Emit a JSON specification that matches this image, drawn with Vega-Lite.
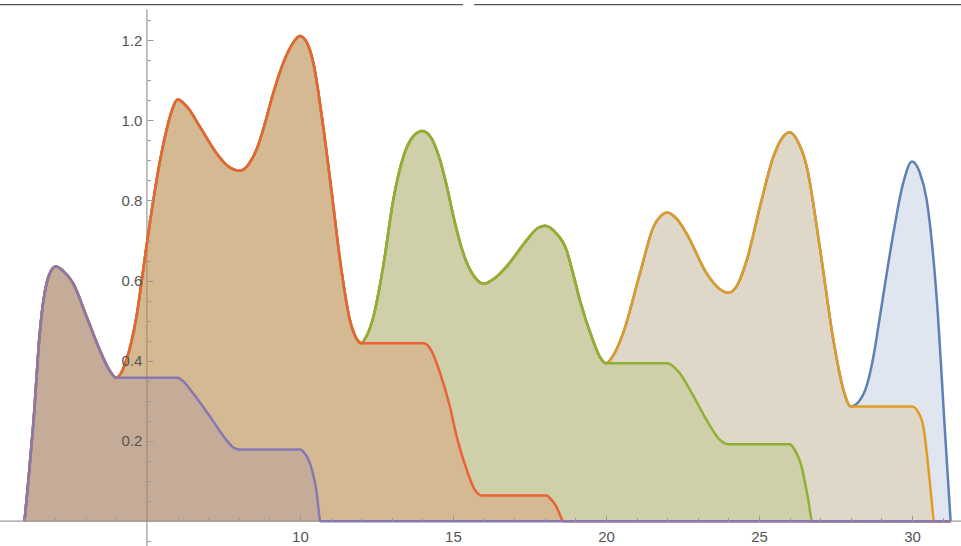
{
  "$schema": "https://vega.github.io/schema/vega-lite/v6.json",
  "width": 961,
  "height": 546,
  "autosize": {"type": "none"},
  "padding": 0,
  "background": "white",
  "config": {"view": {"stroke": null}},
  "datasets": {
    "curves": [
      {"x": 1.00, "b": 0, "o": 0, "g": 0, "r": 0, "p": 0},
      {"x": 1.12, "b": 0.095, "o": 0.095, "g": 0.095, "r": 0.095, "p": 0.095},
      {"x": 1.29, "b": 0.244, "o": 0.244, "g": 0.244, "r": 0.244, "p": 0.244},
      {"x": 1.50, "b": 0.469, "o": 0.469, "g": 0.469, "r": 0.469, "p": 0.469},
      {"x": 1.60, "b": 0.54, "o": 0.54, "g": 0.54, "r": 0.54, "p": 0.54},
      {"x": 1.72, "b": 0.593, "o": 0.593, "g": 0.593, "r": 0.593, "p": 0.593},
      {"x": 1.85, "b": 0.622, "o": 0.622, "g": 0.622, "r": 0.622, "p": 0.622},
      {"x": 2.03, "b": 0.635, "o": 0.635, "g": 0.635, "r": 0.635, "p": 0.635},
      {"x": 2.25, "b": 0.625, "o": 0.625, "g": 0.625, "r": 0.625, "p": 0.625},
      {"x": 2.59, "b": 0.593, "o": 0.593, "g": 0.593, "r": 0.593, "p": 0.593},
      {"x": 3.03, "b": 0.51, "o": 0.51, "g": 0.51, "r": 0.51, "p": 0.51},
      {"x": 3.46, "b": 0.427, "o": 0.427, "g": 0.427, "r": 0.427, "p": 0.427},
      {"x": 3.75, "b": 0.38, "o": 0.38, "g": 0.38, "r": 0.38, "p": 0.38},
      {"x": 4.00, "b": 0.358, "o": 0.358, "g": 0.358, "r": 0.358, "p": 0.358},
      {"x": 4.33, "b": 0.402, "o": 0.402, "g": 0.402, "r": 0.402},
      {"x": 4.66, "b": 0.51, "o": 0.51, "g": 0.51, "r": 0.51},
      {"x": 4.93, "b": 0.655, "o": 0.655, "g": 0.655, "r": 0.655},
      {"x": 5.10, "b": 0.745, "o": 0.745, "g": 0.745, "r": 0.745},
      {"x": 5.42, "b": 0.895, "o": 0.895, "g": 0.895, "r": 0.895},
      {"x": 5.64, "b": 0.975, "o": 0.975, "g": 0.975, "r": 0.975},
      {"x": 5.82, "b": 1.025, "o": 1.025, "g": 1.025, "r": 1.025},
      {"x": 6.00, "b": 1.052, "o": 1.052, "g": 1.052, "r": 1.052, "p": 0.358},
      {"x": 6.20, "p": 0.348},
      {"x": 6.35, "b": 1.03, "o": 1.03, "g": 1.03, "r": 1.03},
      {"x": 6.51, "p": 0.319},
      {"x": 6.73, "b": 0.984, "o": 0.984, "g": 0.984, "r": 0.984},
      {"x": 7.06, "p": 0.261},
      {"x": 7.28, "b": 0.917, "o": 0.917, "g": 0.917, "r": 0.917},
      {"x": 7.60, "p": 0.202},
      {"x": 7.65, "b": 0.885, "o": 0.885, "g": 0.885, "r": 0.885},
      {"x": 7.80, "p": 0.185},
      {"x": 8.00, "p": 0.179},
      {"x": 8.02, "b": 0.874, "o": 0.874, "g": 0.874, "r": 0.874},
      {"x": 8.35, "b": 0.893, "o": 0.893, "g": 0.893, "r": 0.893},
      {"x": 8.60, "b": 0.93, "o": 0.93, "g": 0.93, "r": 0.93},
      {"x": 8.85, "b": 0.99, "o": 0.99, "g": 0.99, "r": 0.99},
      {"x": 9.10, "b": 1.06, "o": 1.06, "g": 1.06, "r": 1.06},
      {"x": 9.45, "b": 1.142, "o": 1.142, "g": 1.142, "r": 1.142},
      {"x": 9.75, "b": 1.19, "o": 1.19, "g": 1.19, "r": 1.19},
      {"x": 10.00, "b": 1.21, "o": 1.21, "g": 1.21, "r": 1.21, "p": 0.179},
      {"x": 10.15, "p": 0.17},
      {"x": 10.25, "b": 1.19, "o": 1.19, "g": 1.19, "r": 1.19},
      {"x": 10.33, "p": 0.144},
      {"x": 10.44, "b": 1.142, "o": 1.142, "g": 1.142, "r": 1.142},
      {"x": 10.55, "p": 0.07},
      {"x": 10.67, "p": 0},
      {"x": 10.76, "b": 0.984, "o": 0.984, "g": 0.984, "r": 0.984},
      {"x": 11.04, "b": 0.818, "o": 0.818, "g": 0.818, "r": 0.818},
      {"x": 11.31, "b": 0.651, "o": 0.651, "g": 0.651, "r": 0.651},
      {"x": 11.63, "b": 0.502, "o": 0.502, "g": 0.502, "r": 0.502},
      {"x": 11.85, "b": 0.455, "o": 0.455, "g": 0.455, "r": 0.455},
      {"x": 12.00, "b": 0.444, "o": 0.444, "g": 0.444, "r": 0.444},
      {"x": 12.15, "b": 0.458, "o": 0.458, "g": 0.458},
      {"x": 12.40, "b": 0.51, "o": 0.51, "g": 0.51},
      {"x": 12.72, "b": 0.635, "o": 0.635, "g": 0.635},
      {"x": 13.05, "b": 0.801, "o": 0.801, "g": 0.801},
      {"x": 13.38, "b": 0.909, "o": 0.909, "g": 0.909},
      {"x": 13.70, "b": 0.96, "o": 0.96, "g": 0.96},
      {"x": 14.00, "b": 0.973, "o": 0.973, "g": 0.973},
      {"x": 14.05, "r": 0.444},
      {"x": 14.30, "b": 0.955, "o": 0.955, "g": 0.955, "r": 0.425},
      {"x": 14.58, "b": 0.90, "o": 0.90, "g": 0.90, "r": 0.369},
      {"x": 14.80, "b": 0.835, "o": 0.835, "g": 0.835},
      {"x": 14.90, "r": 0.286},
      {"x": 15.01, "b": 0.762, "o": 0.762, "g": 0.762},
      {"x": 15.12, "r": 0.211},
      {"x": 15.25, "b": 0.69, "o": 0.69, "g": 0.69},
      {"x": 15.45, "b": 0.645, "o": 0.645, "g": 0.645, "r": 0.128},
      {"x": 15.70, "r": 0.08},
      {"x": 15.75, "b": 0.605, "o": 0.605, "g": 0.605},
      {"x": 15.95, "r": 0.064},
      {"x": 16.00, "b": 0.592, "o": 0.592, "g": 0.592},
      {"x": 16.35, "b": 0.605, "o": 0.605, "g": 0.605},
      {"x": 16.75, "b": 0.635, "o": 0.635, "g": 0.635},
      {"x": 17.41, "b": 0.701, "o": 0.701, "g": 0.701},
      {"x": 17.75, "b": 0.73, "o": 0.73, "g": 0.73},
      {"x": 18.00, "b": 0.737, "o": 0.737, "g": 0.737},
      {"x": 18.05, "r": 0.064},
      {"x": 18.20, "r": 0.055},
      {"x": 18.35, "b": 0.72, "o": 0.72, "g": 0.72},
      {"x": 18.38, "r": 0.036},
      {"x": 18.50, "r": 0.015},
      {"x": 18.60, "r": 0},
      {"x": 18.71, "b": 0.676, "o": 0.676, "g": 0.676},
      {"x": 18.90, "b": 0.625, "o": 0.625, "g": 0.625},
      {"x": 19.15, "b": 0.55, "o": 0.55, "g": 0.55},
      {"x": 19.58, "b": 0.45, "o": 0.45, "g": 0.45},
      {"x": 19.80, "b": 0.41, "o": 0.41, "g": 0.41},
      {"x": 20.00, "b": 0.394, "o": 0.394, "g": 0.394},
      {"x": 20.25, "b": 0.415, "o": 0.415},
      {"x": 20.56, "b": 0.469, "o": 0.469},
      {"x": 21.11, "b": 0.618, "o": 0.618},
      {"x": 21.55, "b": 0.734, "o": 0.734},
      {"x": 21.80, "b": 0.762, "o": 0.762},
      {"x": 22.00, "b": 0.770, "o": 0.770, "g": 0.394},
      {"x": 22.30, "b": 0.755, "o": 0.755},
      {"x": 22.40, "g": 0.37},
      {"x": 22.63, "b": 0.718, "o": 0.718},
      {"x": 22.75, "g": 0.327},
      {"x": 23.29, "b": 0.618, "o": 0.618, "g": 0.252},
      {"x": 23.70, "b": 0.58, "o": 0.58},
      {"x": 23.73, "g": 0.202},
      {"x": 24.00, "b": 0.570, "o": 0.570, "g": 0.192},
      {"x": 24.30, "b": 0.59, "o": 0.59},
      {"x": 24.60, "b": 0.651, "o": 0.651},
      {"x": 25.03, "b": 0.784, "o": 0.784},
      {"x": 25.47, "b": 0.909, "o": 0.909},
      {"x": 25.75, "b": 0.955, "o": 0.955},
      {"x": 26.00, "b": 0.970, "o": 0.970, "g": 0.192},
      {"x": 26.15, "g": 0.18},
      {"x": 26.25, "b": 0.95, "o": 0.95},
      {"x": 26.39, "g": 0.136},
      {"x": 26.56, "b": 0.884, "o": 0.884},
      {"x": 26.61, "g": 0.053},
      {"x": 26.74, "g": 0},
      {"x": 27.00, "b": 0.676, "o": 0.676},
      {"x": 27.43, "b": 0.452, "o": 0.452},
      {"x": 27.76, "b": 0.327, "o": 0.327},
      {"x": 28.00, "b": 0.286, "o": 0.286},
      {"x": 28.30, "b": 0.302},
      {"x": 28.52, "b": 0.338},
      {"x": 28.75, "b": 0.415},
      {"x": 28.95, "b": 0.51},
      {"x": 29.39, "b": 0.718},
      {"x": 29.70, "b": 0.84},
      {"x": 30.00, "b": 0.897, "o": 0.286},
      {"x": 30.20, "o": 0.272},
      {"x": 30.25, "b": 0.87},
      {"x": 30.37, "o": 0.236},
      {"x": 30.48, "b": 0.801},
      {"x": 30.53, "o": 0.136},
      {"x": 30.64, "o": 0.053},
      {"x": 30.72, "o": 0},
      {"x": 30.81, "b": 0.552},
      {"x": 31.08, "b": 0.219},
      {"x": 31.26, "b": 0, "o": 0, "g": 0, "r": 0, "p": 0}
    ],
    "axislines": [
      {"x1": 0.2, "x2": 31.6, "y1": 0, "y2": 0},
      {"x1": 5, "x2": 5, "y1": -0.062, "y2": 1.277}
    ],
    "frame": [
      {"x1": 0.2, "x2": 15.33, "y1": 1.2885, "y2": 1.2885},
      {"x1": 15.69, "x2": 31.6, "y1": 1.2885, "y2": 1.2885}
    ]
  },
  "layer": [
    {
      "data": {"name": "axislines"},
      "mark": {"type": "rule", "stroke": "#9a9a9a", "strokeWidth": 1.2},
      "encoding": {
        "x": {"field": "x1", "type": "quantitative", "scale": {"domain": [0.2, 31.6], "nice": false, "zero": false},
          "axis": {"orient": "bottom", "offset": -24.9, "values": [10, 15, 20, 25, 30], "domain": false, "grid": false, "ticks": false,
            "labelFontSize": 15, "labelColor": "#555555", "labelFont": "Liberation Sans", "labelPadding": 8, "labelFlush": false, "title": null, "zindex": 1}},
        "x2": {"field": "x2"},
        "y": {"field": "y1", "type": "quantitative", "scale": {"domain": [-0.062, 1.30], "nice": false, "zero": false},
          "axis": {"orient": "left", "offset": -146.9, "values": [0.2, 0.4, 0.6, 0.8, 1.0, 1.2], "format": ".1f", "domain": false, "grid": false, "ticks": false,
            "labelFontSize": 15, "labelColor": "#555555", "labelFont": "Liberation Sans", "labelPadding": 5, "labelFlush": false, "title": null, "zindex": 1}},
        "y2": {"field": "y2"}
      }
    },
    {
      "data": {"name": "frame"},
      "mark": {"type": "rule", "stroke": "#555555", "strokeWidth": 1.4},
      "encoding": {
        "x": {"field": "x1", "type": "quantitative", "axis": null},
        "x2": {"field": "x2"},
        "y": {"field": "y1", "type": "quantitative", "axis": null},
        "y2": {"field": "y2"}
      }
    },
    {
      "data": {"name": "curves"},
      "transform": [
        {"fold": ["b", "o", "g", "r", "p"], "as": ["s", "y"]},
        {"filter": "isValid(datum.y)"}
      ],
      "mark": {"type": "area", "interpolate": "monotone", "fillOpacity": 0.2},
      "encoding": {
        "x": {"field": "x", "type": "quantitative",
          "axis": {"orient": "top", "offset": -521.1, "values": [10, 15, 20, 25, 30], "domain": false, "grid": false, "labels": false,
            "tickSize": 6, "tickColor": "#999999", "tickWidth": 1, "title": null, "zindex": 1}},
        "y": {"field": "y", "type": "quantitative", "stack": null,
          "axis": {"orient": "right", "offset": -814.1, "values": [0.2, 0.4, 0.6, 0.8, 1.0, 1.2], "domain": false, "grid": false, "labels": false,
            "tickSize": 6, "tickColor": "#999999", "tickWidth": 1, "title": null, "zindex": 1}},
        "color": {"field": "s", "type": "nominal",
          "scale": {"domain": ["b", "o", "g", "r", "p"], "range": ["#5E81B5", "#E19C24", "#8FB032", "#EB6235", "#8778B3"]},
          "legend": null}
      }
    },
    {
      "data": {"name": "curves"},
      "transform": [
        {"fold": ["b", "o", "g", "r", "p"], "as": ["s", "y"]},
        {"filter": "isValid(datum.y)"}
      ],
      "mark": {"type": "line", "interpolate": "monotone", "strokeWidth": 2.5},
      "encoding": {
        "x": {"field": "x", "type": "quantitative",
          "axis": {"orient": "top", "offset": -521.1, "values": [1,2,3,4,6,7,8,9,11,12,13,14,16,17,18,19,21,22,23,24,26,27,28,29,31],
            "domain": false, "grid": false, "labels": false, "tickSize": 3.5, "tickColor": "#999999", "tickWidth": 1, "title": null, "zindex": 1}},
        "y": {"field": "y", "type": "quantitative",
          "axis": {"orient": "right", "offset": -814.1, "values": [-0.05,0.05,0.1,0.15,0.25,0.3,0.35,0.45,0.5,0.55,0.65,0.7,0.75,0.85,0.9,0.95,1.05,1.1,1.15,1.25],
            "domain": false, "grid": false, "labels": false, "tickSize": 3.5, "tickColor": "#999999", "tickWidth": 1, "title": null, "zindex": 1}},
        "color": {"field": "s", "type": "nominal", "legend": null}
      }
    }
  ],
  "resolve": {"axis": {"x": "independent", "y": "independent"}}
}
